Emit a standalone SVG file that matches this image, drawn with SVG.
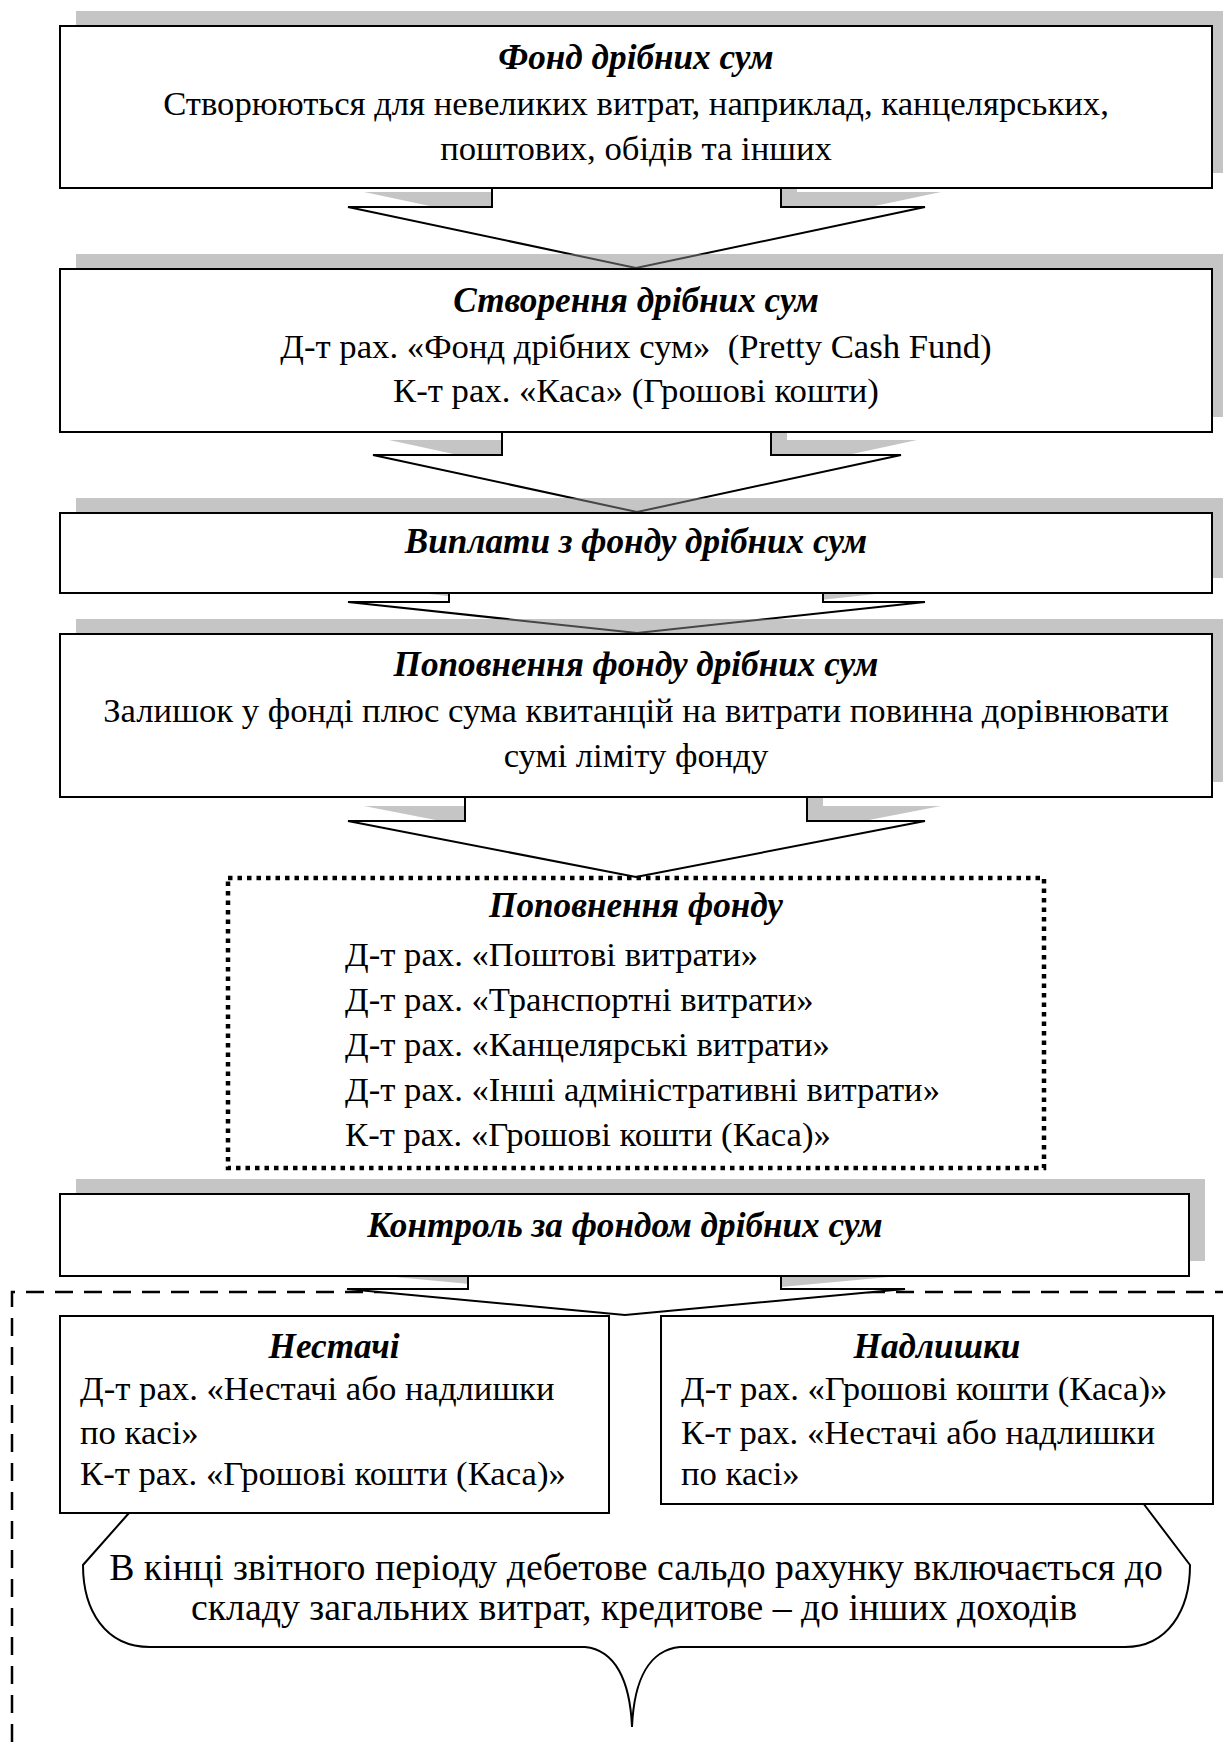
<svg xmlns="http://www.w3.org/2000/svg" width="1223" height="1742" viewBox="0 0 1223 1742">
<style>
.bg{fill:#ffffff}
.box{fill:#ffffff;stroke:#000;stroke-width:2}
.shadow{fill:#8c8c8c;fill-opacity:0.5;stroke:none}
.arrow{fill:#ffffff;stroke:#000;stroke-width:2;stroke-linejoin:miter}
.dotted{fill:none;stroke:#000;stroke-width:4.5;stroke-dasharray:4.5 5}
.dashed{fill:none;stroke:#000;stroke-width:2.5;stroke-dasharray:18 11}
.brace{fill:none;stroke:#000;stroke-width:2}
text{font-family:"Liberation Serif","Times New Roman",serif;font-size:34.7px;fill:#000}
.t{font-weight:bold;font-style:italic;font-size:35.2px}
.c{text-anchor:middle}
.big{font-size:37.8px}
</style>
<rect class="bg" x="0" y="0" width="1223" height="1742"/>

<g id="group-control-area">
  <path class="dashed" d="M12 1742 L12 1292 L1240 1292"/>
</g>

<g id="connectors">
  <g id="arrow1">
    <path class="shadow" transform="translate(16,-15)" d="M492 170 L492 207 L348 207 L636 268 L925 207 L781 207 L781 170 Z"/>
    <path class="arrow" d="M492 170 L492 207 L348 207 L636 268 L925 207 L781 207 L781 170 Z"/>
  </g>
  <g id="arrow2">
    <path class="shadow" transform="translate(16,-15)" d="M502 415 L502 455 L373 455 L637 512 L901 455 L771 455 L771 415 Z"/>
    <path class="arrow" d="M502 415 L502 455 L373 455 L637 512 L901 455 L771 455 L771 415 Z"/>
  </g>
  <g id="arrow3">
    <path class="shadow" transform="translate(16,-15)" d="M449 575 L449 602 L348 602 L637 633 L925 602 L823 602 L823 575 Z"/>
    <path class="arrow" d="M449 575 L449 602 L348 602 L637 633 L925 602 L823 602 L823 575 Z"/>
  </g>
  <g id="arrow4">
    <path class="shadow" transform="translate(16,-15)" d="M465 780 L465 821 L348 821 L636 877 L925 821 L807 821 L807 780 Z"/>
    <path class="arrow" d="M465 780 L465 821 L348 821 L636 877 L925 821 L807 821 L807 780 Z"/>
  </g>
  <g id="arrow5">
    <path class="shadow" transform="translate(16,-15)" d="M468 1260 L468 1289 L347 1289 L625 1315 L905 1289 L781 1289 L781 1260 Z"/>
    <path class="arrow" d="M468 1260 L468 1289 L347 1289 L625 1315 L905 1289 L781 1289 L781 1260 Z"/>
  </g>
</g>

<g id="node-fund">
  <rect class="shadow" x="76" y="11" width="1152" height="162"/>
  <rect class="box" x="60" y="26" width="1152" height="162"/>
  <text class="t c" x="636" y="69">Фонд дрібних сум</text>
  <text class="c" x="636" y="115">Створюються для невеликих витрат, наприклад, канцелярських,</text>
  <text class="c" x="636" y="160">поштових, обідів та інших</text>
</g>

<g id="node-create">
  <rect class="shadow" x="76" y="254" width="1152" height="163"/>
  <rect class="box" x="60" y="269" width="1152" height="163"/>
  <text class="t c" x="636" y="312">Створення дрібних сум</text>
  <text class="c" x="636" y="358" xml:space="preserve">Д-т рах. «Фонд дрібних сум»  (Pretty Cash Fund)</text>
  <text class="c" x="636" y="402">К-т рах. «Каса» (Грошові кошти)</text>
</g>

<g id="node-payments">
  <rect class="shadow" x="76" y="498" width="1152" height="80"/>
  <rect class="box" x="60" y="513" width="1152" height="80"/>
  <text class="t c" x="636" y="553">Виплати з фонду дрібних сум</text>
</g>

<g id="node-replenish">
  <rect class="shadow" x="76" y="619" width="1152" height="163"/>
  <rect class="box" x="60" y="634" width="1152" height="163"/>
  <text class="t c" x="636" y="676">Поповнення фонду дрібних сум</text>
  <text class="c" x="636" y="722">Залишок у фонді плюс сума квитанцій на витрати повинна дорівнювати</text>
  <text class="c" x="636" y="767">сумі ліміту фонду</text>
</g>

<g id="node-replenish-entries">
  <rect class="dotted" x="228" y="878" width="816" height="290"/>
  <text class="t c" x="636" y="917">Поповнення фонду</text>
  <text x="345" y="966">Д-т рах. «Поштові витрати»</text>
  <text x="345" y="1011">Д-т рах. «Транспортні витрати»</text>
  <text x="345" y="1056">Д-т рах. «Канцелярські витрати»</text>
  <text x="345" y="1101">Д-т рах. «Інші адміністративні витрати»</text>
  <text x="345" y="1146">К-т рах. «Грошові кошти (Каса)»</text>
</g>

<g id="node-control">
  <rect class="shadow" x="76" y="1179" width="1129" height="82"/>
  <rect class="box" x="60" y="1194" width="1129" height="82"/>
  <text class="t c" x="625" y="1237">Контроль за фондом дрібних сум</text>
</g>

<g id="node-brace">
  <path class="brace" d="M129 1513 L83 1565 C83 1610 105 1647 150 1647 L585 1647 C615 1650 630 1680 632 1727 C634 1680 649 1650 680 1647 L1125 1647 C1168 1647 1190 1610 1190 1565 L1143 1503"/>
  <text class="c big" x="636" y="1580">В кінці звітного періоду дебетове сальдо рахунку включається до</text>
  <text class="c big" x="634" y="1620">складу загальних витрат, кредитове – до інших доходів</text>
</g>

<g id="node-shortage">
  <rect class="box" x="60" y="1316" width="549" height="197"/>
  <text class="t c" x="334" y="1358">Нестачі</text>
  <text x="80" y="1400">Д-т рах. «Нестачі або надлишки</text>
  <text x="80" y="1444">по касі»</text>
  <text x="80" y="1485">К-т рах. «Грошові кошти (Каса)»</text>
</g>

<g id="node-surplus">
  <rect class="box" x="661" y="1316" width="552" height="188"/>
  <text class="t c" x="937" y="1358">Надлишки</text>
  <text x="681" y="1400">Д-т рах. «Грошові кошти (Каса)»</text>
  <text x="681" y="1444">К-т рах. «Нестачі або надлишки</text>
  <text x="681" y="1485">по касі»</text>
</g>
</svg>
